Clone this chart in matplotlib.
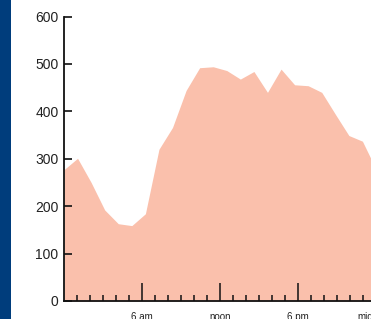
import numpy as np
import matplotlib.pyplot as plt
from matplotlib.patches import Rectangle

# значения (примерно) по часам суток, 24 точки от полуночи до полуночи
values = [277, 301, 250, 192, 163, 159, 184, 320, 366, 444, 492, 494,
          486, 468, 484, 440, 489, 456, 454, 440, 394, 349, 337, 278]
hours = np.linspace(0, 24, len(values))

major_ticks = [6, 12, 18, 24]
major_labels = ["6 am", "noon", "6 pm", "midnight"]
minor_ticks = [h for h in range(1, 24) if h not in major_ticks]
y_ticks = [0, 100, 200, 300, 400, 500, 600]

plt.rcParams['font.family'] = ['Liberation Sans', 'DejaVu Sans']

fig = plt.figure(figsize=(3.71, 3.19), dpi=100)

# тёмно-синяя полоса слева
fig.patches.append(Rectangle((0, 0), 11 / 371, 1, transform=fig.transFigure,
                             facecolor="#003d7c", edgecolor="none"))

ax = fig.add_axes([64 / 371, 18 / 319, 312 / 371, 284.5 / 319])
ax.fill_between(hours, values, 0, color="#fac0ac", linewidth=0)

ax.set_xlim(0, 24)
ax.set_ylim(0, 600)

ax.spines["top"].set_visible(False)
ax.spines["right"].set_visible(False)
for s in ("left", "bottom"):
    ax.spines[s].set_linewidth(1.3)
    ax.spines[s].set_color("#111111")

ax.set_yticks(y_ticks)
ax.tick_params(axis="y", direction="in", length=5.5, width=1.2, pad=4,
               labelsize=10, colors="#111111", labelcolor="#222222")

ax.set_xticks(major_ticks)
ax.set_xticklabels(major_labels)
ax.set_xticks(minor_ticks, minor=True)
ax.tick_params(axis="x", which="major", direction="in", length=12.7, width=1.1,
               pad=8, labelsize=7, colors="#111111", labelcolor="#222222")
ax.tick_params(axis="x", which="minor", direction="in", length=4.3, width=1.1,
               colors="#111111")

fig.savefig("out.png", dpi=100)
